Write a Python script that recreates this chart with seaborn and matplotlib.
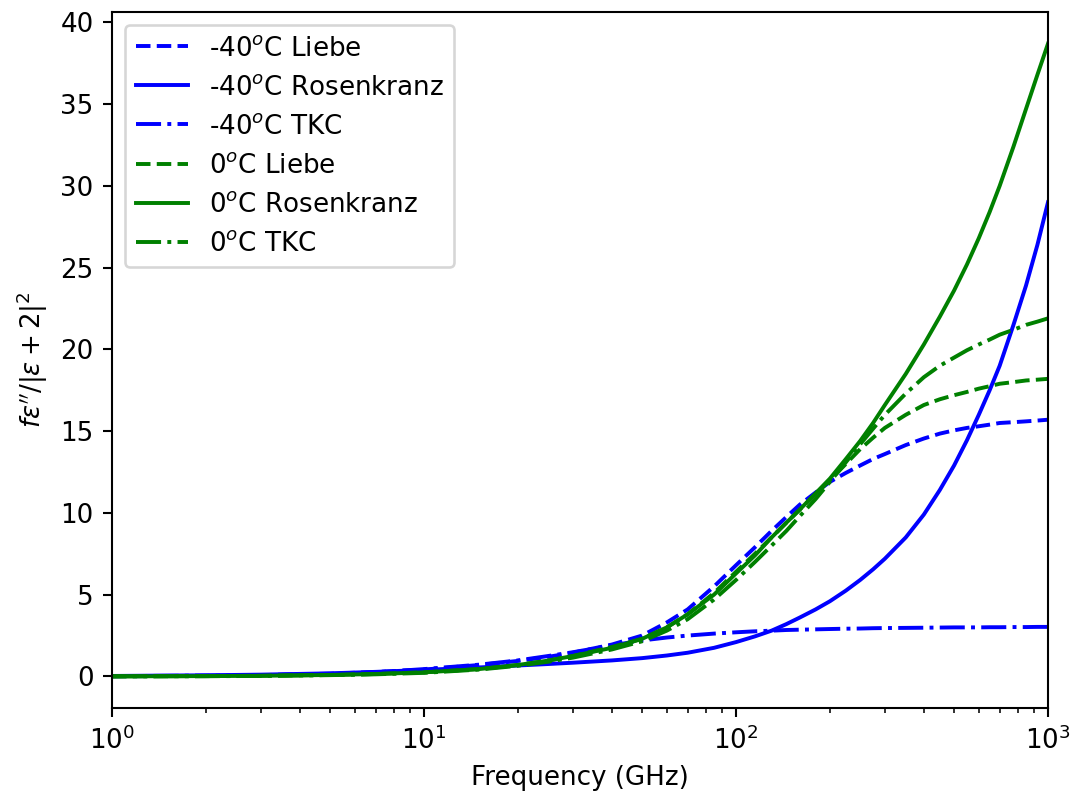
import matplotlib
matplotlib.use("Agg")
import matplotlib.pyplot as plt
import seaborn as sns

freq = [1, 2, 3, 5, 7, 10, 15, 20, 25, 30, 40, 50, 60, 70, 85, 100, 115, 130, 145, 160,
        180, 200, 225, 250, 275, 300, 350, 400, 450, 500, 550, 600, 650, 700, 775, 850, 925, 1000]

m40_liebe = [0.01, 0.04, 0.08, 0.17, 0.27, 0.42, 0.7, 0.95, 1.2, 1.45, 1.95, 2.5, 3.3, 4.1, 5.5, 6.8, 7.9, 8.9, 9.75, 10.5,
             11.25, 11.9, 12.45, 12.9, 13.3, 13.6, 14.15, 14.55, 14.85, 15.05, 15.2, 15.3, 15.4, 15.5, 15.55, 15.6, 15.65, 15.7]
m40_rosen = [0.03, 0.07, 0.11, 0.19, 0.28, 0.4, 0.55, 0.67, 0.76, 0.84, 0.98, 1.12, 1.28, 1.45, 1.75, 2.1, 2.45, 2.8, 3.2, 3.6,
             4.1, 4.6, 5.25, 5.9, 6.55, 7.2, 8.5, 9.9, 11.4, 12.9, 14.45, 16.0, 17.5, 19.0, 21.5, 23.9, 26.4, 29.0]
m40_tkc = [0.02, 0.05, 0.08, 0.15, 0.25, 0.45, 0.72, 0.98, 1.25, 1.48, 1.9, 2.2, 2.38, 2.5, 2.62, 2.7, 2.76, 2.8, 2.84, 2.86,
           2.88, 2.9, 2.92, 2.93, 2.95, 2.96, 2.97, 2.98, 2.99, 3.0, 3.0, 3.0, 3.01, 3.01, 3.02, 3.02, 3.03, 3.03]
z0_liebe = [0.005, 0.02, 0.04, 0.09, 0.15, 0.25, 0.45, 0.7, 0.97, 1.25, 1.8, 2.3, 3.0, 3.8, 5.1, 6.4, 7.5, 8.5, 9.4, 10.2,
            11.15, 12.0, 13.0, 13.9, 14.6, 15.2, 16.0, 16.6, 16.95, 17.2, 17.4, 17.6, 17.75, 17.9, 18.0, 18.1, 18.15, 18.2]
z0_rosen = [0.005, 0.02, 0.04, 0.09, 0.15, 0.25, 0.45, 0.7, 0.97, 1.25, 1.75, 2.3, 3.0, 3.8, 5.0, 6.3, 7.4, 8.5, 9.4, 10.2,
            11.2, 12.1, 13.3, 14.4, 15.5, 16.6, 18.5, 20.3, 22.0, 23.6, 25.2, 26.8, 28.4, 30.0, 32.4, 34.7, 36.8, 38.7]
z0_tkc = [0.005, 0.015, 0.03, 0.08, 0.13, 0.22, 0.42, 0.65, 0.9, 1.15, 1.65, 2.15, 2.8, 3.5, 4.7, 5.9, 7.0, 8.0, 8.9, 9.8,
          10.85, 11.9, 13.1, 14.2, 15.15, 16.0, 17.3, 18.3, 19.0, 19.5, 19.95, 20.3, 20.6, 20.9, 21.2, 21.5, 21.7, 21.9]

series = [
    (m40_liebe, "blue", "--", "-40$^o$C Liebe"),
    (m40_rosen, "blue", "-", "-40$^o$C Rosenkranz"),
    (m40_tkc, "blue", "-.", "-40$^o$C TKC"),
    (z0_liebe, "green", "--", "0$^o$C Liebe"),
    (z0_rosen, "green", "-", "0$^o$C Rosenkranz"),
    (z0_tkc, "green", "-.", "0$^o$C TKC"),
]

fig = plt.figure(figsize=(1073 / 188, 799 / 188), dpi=188)
ax = fig.add_axes([112 / 1073, 1 - 708 / 799, (1048 - 112) / 1073, (708 - 12) / 799])

for vals, col, ls, lab in series:
    sns.lineplot(x=freq, y=vals, color=col, linestyle=ls, label=lab, ax=ax, linewidth=1.5)

ax.set_xscale("log")
ax.set_xlim(1, 1000)
ax.set_xlabel("Frequency (GHz)")
ax.set_ylabel(r"$f\varepsilon''/|\varepsilon+2|^2$")
ax.legend(loc="upper left")

fig.savefig("out.png", dpi=188)
